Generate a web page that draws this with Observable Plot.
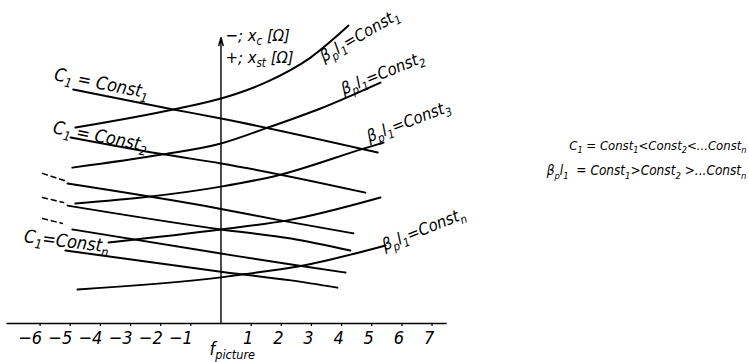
<!DOCTYPE html>
<html><head><meta charset="utf-8">
<script src="https://cdn.jsdelivr.net/npm/d3@7"></script>
<script src="https://cdn.jsdelivr.net/npm/@observablehq/plot@0.6"></script>
<style>body{margin:0;background:#fff}</style>
</head><body><div id="chart"></div>
<script>
// ---- data (x: f_picture units, y: arbitrary reactance units) ----
const xTicksNeg = [-6, -5, -4, -3, -2, -1];
const xTicksPos = [1, 2, 3, 4, 5, 6, 7];
const axisExtentX = [-7.1, 7.5];
const axisTopY = 9.49;

// C1 = const lines (decreasing)
const c1Const1 = [[-4.9, 7.76], [-1.58, 7.10], [0, 6.80], [5.2, 5.67]];
const c1Const2 = [[-4.99, 6.17], [-1.91, 5.61], [0, 5.31], [4.79, 4.34]];
const c1Const3 = [[-5.09, 4.64], [0, 3.80], [1.97, 3.42], [4.39, 2.99]];
const c1Const4 = [[-5.09, 3.91], [0, 3.12], [2.32, 2.82], [4.29, 2.42]];
const c1Const5 = [[-4.93, 3.12], [0, 2.32], [2.55, 1.92], [4.13, 1.69]];
const c1ConstN = [[-5.16, 2.42], [0, 1.72], [2.32, 1.43], [3.86, 1.19]];

// beta_p l_1 = const curves (increasing)
const bConst1 = [[-4.83, 6.50], [-1.58, 7.10], [0, 7.46], [1.54, 8.02], [2.97, 8.82], [4.23, 9.88]];
const bConst2 = [[-4.93, 5.17], [-1.91, 5.61], [0, 5.97], [1.48, 6.47], [3.30, 7.13], [5.29, 7.99]];
const bConst3 = [[-4.83, 3.98], [0, 4.54], [1.87, 4.91], [4.73, 5.80], [5.39, 6.00]];
const bConst4 = [[-3.73, 2.69], [0, 3.12], [2.20, 3.42], [5.29, 4.18]];
const bConstN = [[-4.76, 1.13], [0, 1.53], [0.75, 1.63], [2.55, 1.89], [5.46, 2.59]];

// dashed stubs ("...")
const dashStubs = [
  [[-5.92, 4.98], [-5.19, 4.74]],
  [[-5.92, 4.18], [-5.22, 4.01]],
  [[-5.92, 3.48], [-5.26, 3.32]]
];

// labels on curves
const c1LabelText = ["C_{1} = Const_{1}", "C_{1} = Const_{2}", "C_{1}=Const_{n}"];
const c1LabelX = [-3.96, -4.00, -5.12];
const c1LabelY = [7.96, 6.20, 2.72];
const c1LabelRot = [11, 11, 7];

const bLabelText = ["β_{p}l_{1}=Const_{1}", "β_{p}l_{1}=Const_{2}", "β_{p}l_{1}=Const_{3}", "β_{p}l_{1}=Const_{n}"];
const bLabelX = [4.60, 5.36, 6.22, 6.72];
const bLabelY = [9.55, 8.30, 6.70, 3.12];
const bLabelRot = [-30, -22, -21, -22];

const yAxisLabelText = ["−;\u00A0x_{c} [Ω]", "+;\u00A0x_{st} [Ω]"];
const yAxisLabelX = [0.15, 0.15];
const yAxisLabelY = [9.55, 8.83];

const legendText1 = ["C_{1} = Const_{1}<Const_{2}<...Const_{n}"];
const legendText2 = ["β_{p}l_{1}\u00A0\u00A0=\u00A0Const_{1}>Const_{2}\u00A0>...Const_{n}"];
const legendX = [17.43, 17.43];
const legendY = [5.90, 5.06];

const xLabelText = ["f_{picture}"];
const xLabelX = [-0.38];
const xLabelY = [-0.84];

// ---- build tables ----
const rows = (name, pts) => pts.map(([x, y]) => ({name, x, y}));
const decRows = [
  ...rows("c1", c1Const1), ...rows("c2", c1Const2), ...rows("c3", c1Const3),
  ...rows("c4", c1Const4), ...rows("c5", c1Const5), ...rows("cn", c1ConstN)];
const incRows = [
  ...rows("b1", bConst1), ...rows("b2", bConst2), ...rows("b3", bConst3),
  ...rows("b4", bConst4), ...rows("bn", bConstN)];
const dashRows = dashStubs.flatMap((pts, i) => rows("d" + i, pts));
const zipLabels = (t, xs, ys, r) => t.map((text, i) => ({text, x: xs[i], y: ys[i], rotate: r ? r[i] : 0}));
const c1Labels = zipLabels(c1LabelText, c1LabelX, c1LabelY, c1LabelRot);
const bLabels = zipLabels(bLabelText, bLabelX, bLabelY, bLabelRot);
const yAxisLabels = zipLabels(yAxisLabelText, yAxisLabelX, yAxisLabelY);
const legendLabels1 = zipLabels(legendText1, legendX.slice(0, 1), legendY.slice(0, 1));
const legendLabels2 = zipLabels(legendText2, legendX.slice(1), legendY.slice(1));
const xLabels = zipLabels(xLabelText, xLabelX, xLabelY);
const fmt = d => d < 0 ? "−" + (-d) : String(d);

const FONT = '"Liberation Sans Narrow", "DejaVu Sans Condensed", "Liberation Sans", sans-serif';

const chart = Plot.plot({
  width: 749, height: 362,
  marginTop: 0, marginRight: 0, marginBottom: 39, marginLeft: 0,
  x: {domain: [-7.313, 17.529], label: null, axis: null},
  y: {domain: [0, 10.713], axis: null},
  style: {fontFamily: FONT, fontStyle: "italic", background: "white", color: "black"},
  marks: [
    Plot.ruleY([0], {x1: axisExtentX[0], x2: axisExtentX[1], stroke: "black", strokeWidth: 1.4}),
    Plot.ruleX([...xTicksNeg, ...xTicksPos], {x: d => d, y1: 0, y2: -0.1, stroke: "black", strokeWidth: 1.2}),
    Plot.text(xTicksNeg, {x: d => d, y: 0, text: fmt, textAnchor: "end", dx: 2, dy: 15, fontSize: 18, fill: "black"}),
    Plot.text(xTicksPos, {x: d => d, y: 0, text: fmt, dx: -3, dy: 15, fontSize: 18, fill: "black"}),
    Plot.arrow([{x: 0, y1: 0, y2: axisTopY}], {x1: "x", x2: "x", y1: "y1", y2: "y2",
      stroke: "black", strokeWidth: 1.4, headLength: 9, headAngle: 30}),
    Plot.line(decRows, {x: "x", y: "y", z: "name", curve: "monotone-x", stroke: "black", strokeWidth: 2}),
    Plot.line(incRows, {x: "x", y: "y", z: "name", curve: "monotone-x", stroke: "black", strokeWidth: 2}),
    Plot.line(dashRows, {x: "x", y: "y", z: "name", stroke: "black", strokeWidth: 1.5, strokeDasharray: "5,4"}),
    Plot.text(c1Labels, {x: "x", y: "y", text: "text", rotate: "rotate", fontSize: 18, fill: "black"}),
    Plot.text(bLabels, {x: "x", y: "y", text: "text", rotate: "rotate", fontSize: 16.5, fill: "black"}),
    Plot.text(yAxisLabels, {x: "x", y: "y", text: "text", textAnchor: "start", fontSize: 16.5, fill: "black"}),
    Plot.text(legendLabels1, {x: "x", y: "y", text: "text", textAnchor: "end", fontSize: 13, fill: "black"}),
    Plot.text(legendLabels2, {x: "x", y: "y", text: "text", textAnchor: "end", fontSize: 13.5, fill: "black"}),
    Plot.text(xLabels, {x: "x", y: "y", text: "text", textAnchor: "start", fontSize: 18, fill: "black"})
  ]
});

// turn _{...} into real subscript tspans
const NS = "http://www.w3.org/2000/svg";
function subify(el) {
  const s = el.textContent;
  if (!s.includes("_{")) return;
  const parts = [...s.matchAll(/_\{([^}]*)\}|([^_]+)/g)];
  el.textContent = "";
  let down = false;
  for (const m of parts) {
    const t = document.createElementNS(NS, "tspan");
    if (m[1] != null) {
      t.textContent = m[1];
      t.setAttribute("font-size", "70%");
      if (!down) t.setAttribute("dy", "0.36em");
      down = true;
    } else {
      t.textContent = m[2];
      if (down) t.setAttribute("dy", "-0.25em");
      down = false;
    }
    el.appendChild(t);
  }
}
chart.querySelectorAll("text").forEach(subify);
document.getElementById("chart").appendChild(chart);
</script>
</body></html>
